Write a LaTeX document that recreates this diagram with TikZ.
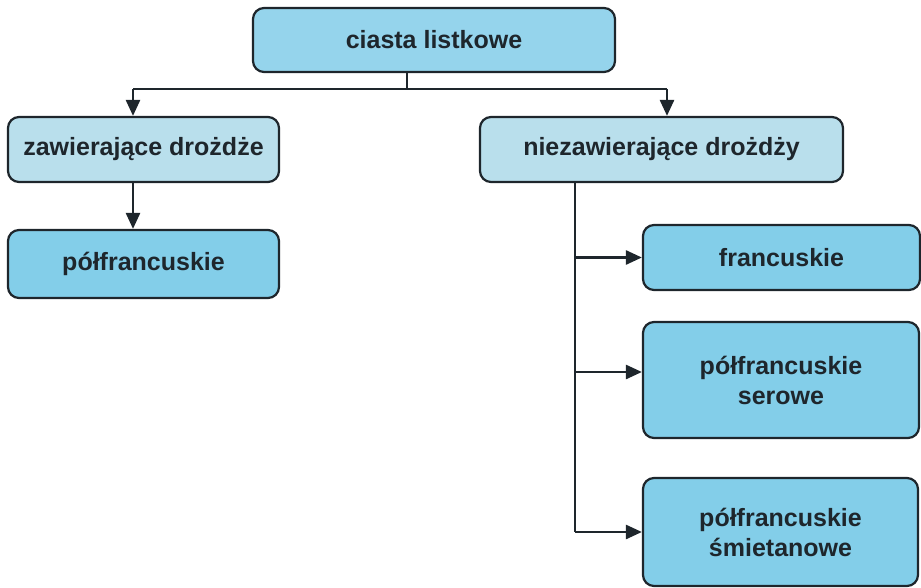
\documentclass[tikz,border=0pt]{standalone}
\usepackage{fontspec}
\setmainfont{Liberation Sans}
\usetikzlibrary{arrows.meta}
\definecolor{topfill}{HTML}{95D4EC}
\definecolor{midfill}{HTML}{B9DFEC}
\definecolor{leaffill}{HTML}{83CEE9}
\definecolor{ink}{HTML}{1E262C}
\tikzset{
  box/.style={draw=ink, line width=2.2pt, rounded corners=11pt, text=ink,
    font=\bfseries\fontsize{25}{30}\selectfont, align=center, inner sep=0pt},
  conn/.style={draw=ink, line width=2.6pt},
  arr/.style={conn, -{Triangle[length=16pt,width=14pt]}}
}
\begin{document}
\begin{tikzpicture}[x=1pt,y=-1pt]
\useasboundingbox (0,0) rectangle (921,588);
\node[box, fill=topfill, minimum width=362pt, minimum height=64pt] (top) at (434,40) {ciasta listkowe};
\node[box, fill=midfill, minimum width=271pt, minimum height=65pt] (zaw) at (143.5,149.5) {zawierające drożdże};
\node[box, fill=midfill, minimum width=363pt, minimum height=65pt] (niez) at (661.5,149.5) {niezawierające drożdży};
\node[box, fill=leaffill, minimum width=271pt, minimum height=68pt] (pol) at (143.5,264) {półfrancuskie};
\node[box, fill=leaffill, minimum width=277pt, minimum height=65pt] (fr) at (781.5,257.5) {francuskie};
\node[box, fill=leaffill, minimum width=276pt, minimum height=116pt] (ser) at (781,380) {półfrancuskie\\serowe};
\node[box, fill=leaffill, minimum width=275pt, minimum height=108pt] (smi) at (780.5,532) {półfrancuskie\\śmietanowe};

\coordinate (j) at (407,89);
\coordinate (jl) at (133,89);
\coordinate (jr) at (667,89);
\coordinate (v) at (575,0);
\draw[conn] (top.south -| j) -- (j);
\draw[conn] (jl) -- (jr);
\draw[arr] (jl) -- (zaw.north -| jl);
\draw[arr] (jr) -- (niez.north -| jr);
\draw[arr] (zaw.south -| jl) -- (pol.north -| jl);
\draw[conn] (niez.south -| v) -- (smi.west -| v);
\draw[arr] (fr.west -| v) -- (fr.west);
\draw[arr] ([yshift=8pt]ser.west -| v) -- ([yshift=8pt]ser.west);
\draw[arr] (smi.west -| v) -- (smi.west);
\end{tikzpicture}
\end{document}
